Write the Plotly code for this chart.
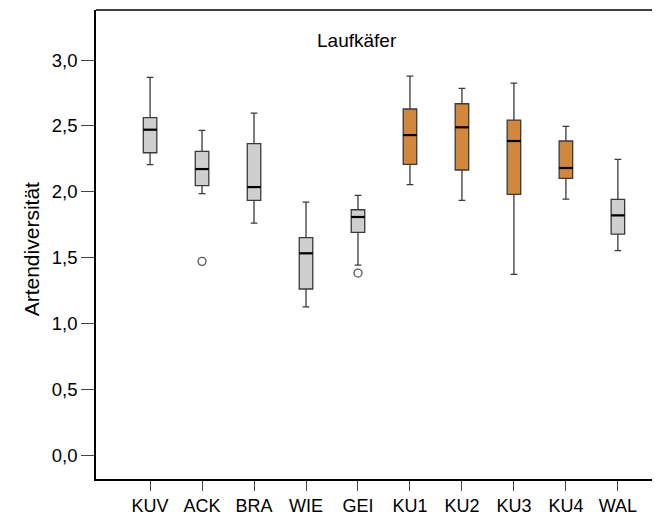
import plotly.graph_objects as go

categories = ["KUV", "ACK", "BRA", "WIE", "GEI", "KU1", "KU2", "KU3", "KU4", "WAL"]
lower_whisker = [2.205, 1.985, 1.762, 1.126, 1.443, 2.053, 1.934, 1.372, 1.944, 1.552]
q1 = [2.296, 2.046, 1.934, 1.261, 1.691, 2.208, 2.165, 1.980, 2.101, 1.678]
median = [2.471, 2.172, 2.035, 1.532, 1.808, 2.430, 2.489, 2.385, 2.180, 1.820]
q3 = [2.562, 2.306, 2.365, 1.651, 1.863, 2.628, 2.668, 2.544, 2.385, 1.942]
upper_whisker = [2.868, 2.466, 2.597, 1.921, 1.972, 2.878, 2.785, 2.825, 2.496, 2.246]
groups = ["grey", "grey", "grey", "grey", "grey", "orange", "orange", "orange", "orange", "grey"]
outlier_cat = ["ACK", "GEI"]
outlier_val = [1.471, 1.382]

y_ticks = [0.0, 0.5, 1.0, 1.5, 2.0, 2.5, 3.0]
y_ticktext = ["0,0", "0,5", "1,0", "1,5", "2,0", "2,5", "3,0"]

fills = {"grey": "#cfcfcf", "orange": "#d2873e"}
FONT = "Liberation Sans, Arial, sans-serif"
BOXW = 0.26

fig = go.Figure()
idx = list(range(len(categories)))
for i, cat in enumerate(categories):
    fig.add_trace(go.Box(
        x=[i], q1=[q1[i]], median=[median[i]], q3=[q3[i]],
        lowerfence=[lower_whisker[i]], upperfence=[upper_whisker[i]],
        width=BOXW, whiskerwidth=0.5,
        fillcolor=fills[groups[i]],
        line=dict(color="#3a3a3a", width=1.3),
        boxpoints=False, showlegend=False, hoverinfo="skip",
    ))
    fig.add_trace(go.Scatter(
        x=[i - BOXW / 2, i + BOXW / 2], y=[median[i], median[i]],
        mode="lines", line=dict(color="black", width=2.2),
        showlegend=False, hoverinfo="skip",
    ))

fig.add_trace(go.Scatter(
    x=[categories.index(c) for c in outlier_cat], y=outlier_val,
    mode="markers",
    marker=dict(symbol="circle-open", size=8, color="#555555", line=dict(width=1.3)),
    showlegend=False, hoverinfo="skip",
))

# page body has an 8px default margin; size the figure so it fits the 660x517 window
fig.update_layout(
    width=652, height=509,
    margin=dict(l=88, r=0, t=2, b=38),
    paper_bgcolor="white", plot_bgcolor="white",
    font=dict(family=FONT, size=18, color="black"),
    xaxis=dict(
        range=[-1.04, 9.81], tickmode="array", tickvals=idx, ticktext=categories,
        showgrid=False, zeroline=False, showline=True, linecolor="black", linewidth=1.5,
        ticks="outside", ticklen=10, tickcolor="#444444", tickwidth=1,
        tickfont=dict(size=18), automargin=False,
    ),
    yaxis=dict(
        range=[-0.182, 3.38], tickmode="array", tickvals=y_ticks, ticktext=y_ticktext,
        showgrid=False, zeroline=False, showline=True, linecolor="black", linewidth=1.5,
        ticks="outside", ticklen=13, tickcolor="#444444", tickwidth=1,
        tickfont=dict(size=18.5), automargin=False,
    ),
    shapes=[dict(type="line", xref="paper", yref="paper", x0=0, x1=1, y0=1, y1=1,
                 line=dict(color="black", width=1.5))],
    annotations=[
        dict(text="Laufkäfer", xref="x", yref="paper", x=3.98, y=0.934,
             showarrow=False, font=dict(size=19), xanchor="center", yanchor="middle"),
        dict(text="Artendiversität", xref="paper", yref="paper", x=-0.115, y=0.49,
             textangle=-90, showarrow=False, font=dict(size=21),
             xanchor="center", yanchor="middle"),
    ],
)

fig.write_html("out.html")
